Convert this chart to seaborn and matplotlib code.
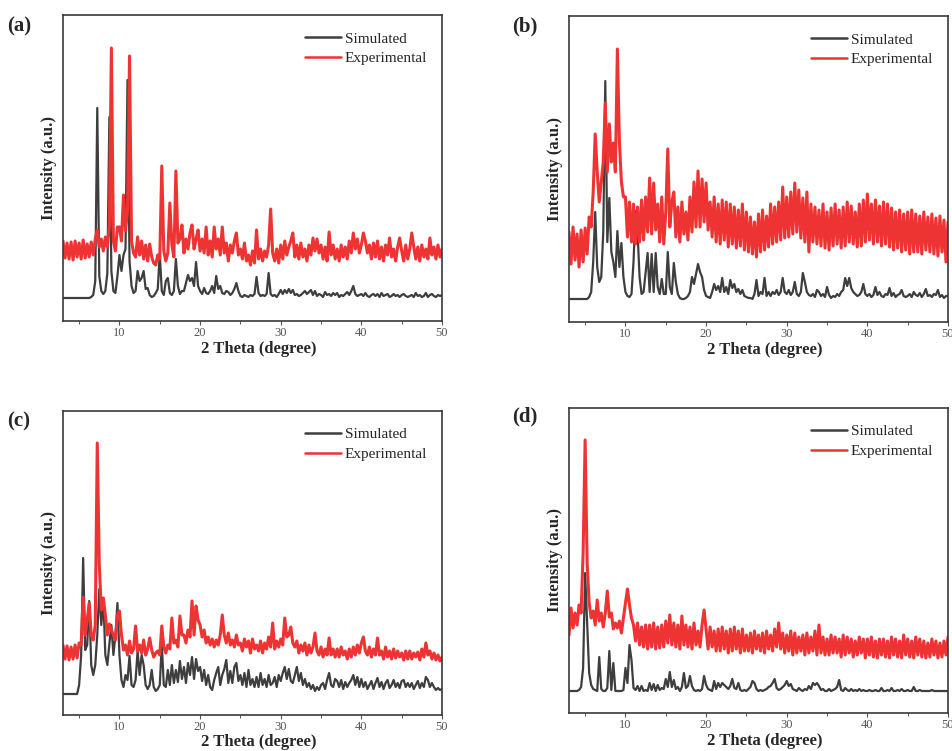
import numpy as np
import matplotlib
matplotlib.use('Agg')
import matplotlib.pyplot as plt
import seaborn as sns
from matplotlib.ticker import MultipleLocator

# 2-theta sampling grid (degrees)
two_theta = np.round(np.arange(3.0, 50.001, 0.25), 2)

# ---------------- panel (a) ----------------
sim_a = [23, 23, 23, 23, 23, 23, 23, 23, 23, 23, 23, 23, 23, 23, 24, 26, 40, 213, 45, 30,
         27, 30, 48, 204, 50, 30, 28, 45, 66, 50, 66, 72, 241, 60, 35, 28, 30, 50, 40, 43,
         50, 32, 33, 26, 24, 25, 28, 32, 67, 30, 26, 40, 43, 28, 26, 30, 62, 35, 27, 30,
         30, 38, 46, 40, 43, 35, 59, 35, 30, 27, 33, 28, 27, 30, 35, 28, 45, 32, 35, 28,
         27, 30, 29, 26, 28, 32, 38, 30, 25, 24, 26, 25, 24, 26, 25, 27, 44, 28, 25, 26,
         25, 27, 48, 27, 25, 26, 24, 27, 31, 27, 31, 28, 32, 28, 31, 26, 27, 25, 26, 28,
         30, 27, 29, 31, 26, 30, 25, 27, 26, 24, 29, 26, 27, 25, 28, 26, 28, 24, 26, 25,
         27, 29, 26, 30, 35, 27, 25, 26, 27, 25, 28, 25, 24, 26, 27, 25, 27, 24, 28, 25,
         26, 27, 24, 25, 27, 25, 26, 24, 26, 27, 25, 24, 25, 26, 24, 28, 25, 26, 24, 25,
         28, 24, 26, 27, 25, 24, 26, 25, 26]
exp_a = [80, 63, 78, 62, 79, 61, 80, 64, 78, 62, 81, 63, 77, 64, 79, 66, 82, 91, 74, 82,
         70, 84, 74, 95, 273, 80, 70, 94, 94, 80, 126, 90, 110, 265, 80, 68, 64, 84, 66, 80,
         62, 76, 60, 77, 64, 58, 56, 66, 62, 155, 70, 60, 68, 118, 76, 64, 150, 78, 82, 96,
         68, 82, 72, 88, 96, 72, 82, 91, 70, 82, 68, 94, 66, 80, 64, 94, 72, 82, 66, 94,
         68, 78, 60, 76, 68, 80, 88, 66, 72, 62, 78, 60, 66, 56, 70, 58, 91, 62, 72, 60,
         70, 64, 76, 112, 68, 60, 72, 58, 76, 62, 80, 66, 74, 80, 88, 64, 76, 62, 78, 64,
         72, 60, 76, 66, 83, 70, 82, 68, 76, 62, 74, 60, 89, 66, 76, 62, 72, 60, 76, 64,
         74, 62, 80, 68, 88, 72, 82, 68, 76, 88, 80, 68, 76, 62, 78, 64, 80, 62, 74, 60,
         76, 66, 83, 64, 72, 60, 74, 83, 70, 60, 76, 62, 72, 88, 74, 62, 74, 60, 76, 64,
         72, 62, 83, 66, 74, 62, 76, 64, 72]

# ---------------- panel (b) ----------------
sim_b = [23, 23, 23, 23, 23, 23, 23, 23, 23, 23, 25, 30, 60, 110, 55, 40, 45, 90, 241, 80,
         124, 70, 60, 45, 91, 55, 79, 45, 30, 26, 25, 28, 60, 111, 90, 45, 28, 30, 49, 69,
         30, 68, 30, 69, 35, 28, 43, 28, 28, 70, 35, 28, 59, 40, 28, 24, 23, 23, 24, 26,
         30, 45, 38, 48, 58, 50, 45, 32, 26, 25, 24, 30, 38, 32, 36, 30, 44, 30, 35, 28,
         42, 34, 38, 30, 33, 28, 32, 26, 25, 24, 24, 23, 28, 42, 26, 30, 28, 44, 26, 30,
         26, 30, 28, 32, 27, 30, 44, 30, 28, 32, 27, 30, 40, 28, 26, 30, 49, 40, 30, 27,
         26, 28, 25, 32, 30, 26, 28, 25, 35, 27, 24, 26, 25, 28, 26, 30, 32, 44, 36, 44,
         34, 30, 28, 26, 27, 30, 38, 28, 26, 28, 25, 27, 35, 27, 30, 26, 25, 28, 27, 34,
         26, 29, 25, 27, 28, 32, 26, 25, 26, 28, 25, 30, 27, 26, 29, 25, 28, 33, 26, 27,
         25, 28, 27, 32, 25, 27, 24, 26, 26]
exp_b = [90, 58, 95, 62, 88, 55, 92, 60, 94, 68, 105, 95, 130, 188, 150, 120, 140, 160, 219, 150,
         198, 160, 179, 150, 273, 180, 140, 125, 125, 85, 120, 80, 118, 78, 115, 80, 122, 82, 125, 90,
         144, 88, 139, 92, 118, 80, 125, 78, 110, 173, 95, 120, 130, 85, 115, 80, 120, 88, 110, 82,
         125, 90, 140, 95, 151, 95, 143, 100, 139, 92, 120, 85, 125, 80, 118, 78, 122, 82, 120, 75,
         118, 78, 115, 74, 112, 76, 118, 72, 110, 70, 105, 68, 100, 65, 108, 70, 112, 72, 106, 75,
         118, 78, 115, 80, 120, 82, 135, 84, 125, 85, 130, 88, 139, 90, 132, 84, 124, 80, 130, 70,
         118, 80, 115, 78, 112, 76, 118, 74, 110, 72, 114, 76, 118, 78, 112, 74, 115, 76, 120, 80,
         116, 78, 110, 75, 118, 76, 122, 80, 128, 82, 118, 78, 122, 80, 116, 76, 120, 78, 118, 75,
         114, 72, 110, 74, 112, 70, 108, 72, 110, 68, 112, 70, 108, 70, 106, 68, 110, 72, 105, 70,
         108, 68, 104, 66, 106, 70, 102, 60, 100]

# ---------------- panel (c) ----------------
sim_c = [21, 21, 21, 21, 21, 21, 21, 21, 30, 60, 157, 65, 70, 114, 50, 40, 50, 80, 126, 90,
         117, 60, 50, 71, 90, 60, 80, 112, 60, 35, 28, 40, 35, 59, 30, 28, 35, 64, 40, 60,
         50, 30, 26, 30, 45, 28, 24, 26, 30, 71, 30, 28, 45, 30, 50, 32, 45, 33, 54, 36,
         48, 32, 52, 40, 58, 36, 56, 44, 48, 34, 45, 30, 40, 28, 25, 35, 42, 48, 30, 40,
         46, 55, 32, 44, 32, 48, 52, 34, 40, 30, 42, 28, 45, 30, 36, 28, 38, 28, 42, 30,
         36, 28, 40, 30, 32, 38, 28, 40, 34, 42, 48, 36, 46, 34, 32, 40, 48, 34, 42, 30,
         36, 28, 32, 26, 30, 24, 28, 25, 30, 32, 26, 35, 42, 30, 28, 36, 34, 28, 35, 26,
         33, 28, 32, 35, 40, 30, 38, 28, 36, 28, 33, 26, 30, 34, 26, 32, 37, 28, 33, 26,
         32, 35, 27, 30, 35, 28, 32, 27, 34, 35, 28, 32, 28, 32, 26, 30, 34, 27, 32, 28,
         38, 35, 28, 32, 28, 25, 27, 25, 26]
exp_c = [70, 56, 69, 55, 68, 56, 70, 57, 72, 70, 118, 80, 95, 112, 80, 75, 90, 272, 150, 105,
         117, 100, 80, 91, 85, 80, 75, 100, 104, 80, 65, 70, 60, 74, 62, 66, 89, 64, 70, 62,
         75, 60, 66, 77, 65, 58, 62, 64, 60, 89, 68, 62, 70, 66, 97, 72, 75, 68, 99, 80,
         80, 72, 85, 78, 114, 80, 109, 95, 90, 78, 85, 72, 78, 70, 76, 68, 75, 70, 80, 100,
         80, 72, 82, 70, 75, 68, 80, 70, 72, 64, 76, 68, 74, 62, 76, 66, 70, 64, 74, 62,
         72, 66, 78, 68, 92, 66, 74, 68, 76, 70, 97, 78, 80, 88, 72, 68, 74, 62, 70, 64,
         72, 60, 70, 62, 68, 82, 64, 60, 68, 58, 66, 60, 77, 60, 66, 58, 66, 58, 68, 60,
         64, 56, 66, 58, 68, 60, 70, 62, 72, 78, 64, 60, 68, 58, 66, 60, 77, 60, 64, 56,
         68, 58, 64, 56, 66, 57, 64, 58, 62, 55, 64, 56, 64, 56, 62, 58, 63, 55, 66, 58,
         72, 60, 64, 56, 62, 55, 60, 54, 58]

# ---------------- panel (d) ----------------
sim_d = [22, 22, 22, 22, 22, 23, 26, 45, 140, 90, 40, 28, 24, 23, 22, 56, 24, 22, 22, 25,
         62, 23, 50, 22, 22, 22, 22, 23, 45, 30, 68, 53, 25, 23, 27, 22, 27, 22, 23, 22,
         30, 23, 29, 22, 28, 23, 25, 24, 34, 26, 41, 26, 33, 24, 26, 22, 26, 40, 25, 27,
         37, 27, 23, 22, 23, 22, 24, 37, 28, 24, 23, 22, 32, 24, 30, 26, 30, 28, 26, 24,
         27, 34, 25, 24, 30, 23, 22, 23, 22, 24, 26, 32, 30, 24, 22, 23, 22, 23, 24, 26,
         27, 30, 34, 25, 23, 24, 26, 28, 32, 27, 29, 24, 23, 22, 25, 23, 22, 24, 23, 27,
         24, 30, 28, 30, 27, 23, 24, 22, 22, 24, 22, 23, 24, 26, 33, 23, 22, 25, 23, 22,
         24, 22, 23, 22, 24, 22, 23, 22, 22, 23, 22, 22, 23, 22, 22, 25, 22, 22, 23, 22,
         25, 22, 22, 23, 22, 24, 22, 22, 23, 22, 22, 26, 22, 22, 23, 22, 22, 22, 22, 22,
         23, 22, 22, 22, 22, 22, 22, 22, 22]
exp_d = [78, 105, 85, 100, 88, 108, 100, 160, 273, 150, 110, 95, 102, 88, 113, 92, 100, 86, 100, 122,
         96, 100, 84, 90, 85, 92, 80, 95, 110, 124, 108, 95, 88, 72, 90, 68, 86, 66, 88, 64,
         88, 66, 90, 64, 86, 65, 88, 66, 92, 70, 98, 68, 90, 66, 88, 64, 97, 68, 88, 66,
         86, 64, 90, 68, 82, 66, 88, 103, 84, 64, 86, 66, 82, 62, 84, 62, 86, 64, 82, 60,
         84, 62, 86, 64, 82, 60, 84, 62, 78, 62, 80, 60, 82, 64, 78, 62, 80, 60, 82, 64,
         78, 62, 84, 66, 90, 64, 80, 60, 78, 62, 82, 58, 80, 60, 76, 62, 78, 58, 80, 60,
         76, 62, 82, 58, 88, 60, 76, 58, 74, 58, 78, 60, 76, 60, 74, 56, 78, 58, 76, 60,
         74, 56, 72, 58, 76, 60, 74, 55, 74, 58, 76, 56, 72, 55, 74, 58, 74, 56, 72, 55,
         76, 58, 74, 56, 72, 55, 78, 58, 74, 56, 72, 55, 76, 58, 74, 56, 72, 55, 70, 56,
         74, 58, 72, 55, 70, 56, 72, 58, 76]

panel_labels = ['(a)', '(b)', '(c)', '(d)']
series_names = ['Simulated', 'Experimental']
x_ticks = [10, 20, 30, 40, 50]

sns.set_style('ticks')
plt.rcParams['font.family'] = ['Liberation Serif', 'DejaVu Serif']

SIM_COLOR = '#3e3e3e'
EXP_COLOR = '#ee3333'
W, H = 952, 751

fig = plt.figure(figsize=(W / 100, H / 100), dpi=100)

# axes boxes in pixels: left, top, right, bottom ; panel label position
layout = [
    ((63, 15, 442, 321), (7, 26)),
    ((569, 16, 948, 322), (512, 26)),
    ((63, 411, 442, 715), (7, 421)),
    ((569, 408, 948, 713), (512, 416)),
]
data = [(sim_a, exp_a), (sim_b, exp_b), (sim_c, exp_c), (sim_d, exp_d)]

for lab, ((l, t, r, b), (lx, ly)), (sim, exp) in zip(panel_labels, layout, data):
    ax = fig.add_axes([l / W, 1 - b / H, (r - l) / W, (b - t) / H])
    sns.lineplot(x=two_theta, y=sim, ax=ax, color=SIM_COLOR, lw=1.6,
                 label=series_names[0], sort=False)
    sns.lineplot(x=two_theta, y=exp, ax=ax, color=EXP_COLOR, lw=2.2,
                 label=series_names[1], sort=False)
    ax.set_xlim(3, 50)
    ax.set_ylim(0, b - t)
    ax.set_yticks([])
    ax.set_xticks(x_ticks)
    ax.xaxis.set_minor_locator(MultipleLocator(5))
    ax.tick_params(axis='x', which='major', direction='out', length=3, width=0.8,
                   color='#555555', labelcolor='#555555', labelsize=9, pad=1.5)
    ax.tick_params(axis='x', which='minor', direction='out', length=2, width=0.7,
                   color='#555555')
    for sp in ax.spines.values():
        sp.set_color('#3a3a3a')
        sp.set_linewidth(1.2)
    ax.set_xlabel('2 Theta (degree)', fontsize=12, fontweight='bold')
    ax.set_ylabel('Intensity (a.u.)', fontsize=12, fontweight='bold')
    ax.xaxis.set_label_coords(0.517, -0.064)
    ax.yaxis.set_label_coords(-0.016, 0.5)
    leg = ax.legend(loc='upper left', bbox_to_anchor=(0.638, 0.945), frameon=False,
                    fontsize=11, handlelength=2.4, handletextpad=0.2, labelspacing=0.38,
                    borderpad=0, borderaxespad=0)
    for h in leg.get_lines():
        h.set_linewidth(1.8)
    fig.text(lx / W, 1 - ly / H, lab, fontsize=15, fontweight='bold',
             ha='left', va='center')

fig.savefig('out.png', dpi=100)
